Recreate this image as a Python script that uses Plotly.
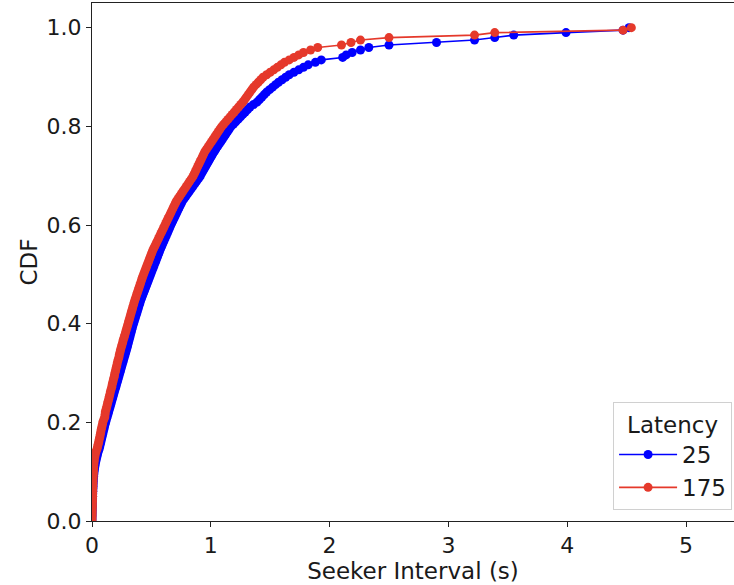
import numpy as np
import plotly.graph_objects as go

# Seeker intervals (seconds), sorted, one list per latency setting
interval_25 = [
    0.000, 0.000, 0.001, 0.001, 0.002, 0.002, 0.003, 0.003, 0.004, 0.005,
    0.005, 0.006, 0.007, 0.008, 0.009, 0.010, 0.011, 0.012, 0.014, 0.016,
    0.018, 0.021, 0.024, 0.028, 0.032, 0.037, 0.042, 0.047, 0.053, 0.060,
    0.065, 0.070, 0.075, 0.080, 0.085, 0.090, 0.095, 0.100, 0.105, 0.110,
    0.116, 0.122, 0.128, 0.134, 0.140, 0.146, 0.152, 0.158, 0.164, 0.170,
    0.176, 0.182, 0.188, 0.194, 0.200, 0.206, 0.212, 0.218, 0.224, 0.230,
    0.236, 0.242, 0.248, 0.254, 0.260, 0.266, 0.272, 0.278, 0.284, 0.290,
    0.296, 0.301, 0.307, 0.312, 0.318, 0.323, 0.329, 0.334, 0.340, 0.345,
    0.352, 0.358, 0.365, 0.371, 0.378, 0.384, 0.391, 0.397, 0.404, 0.410,
    0.418, 0.426, 0.434, 0.442, 0.450, 0.458, 0.466, 0.474, 0.482, 0.490,
    0.498, 0.506, 0.514, 0.522, 0.530, 0.538, 0.546, 0.554, 0.562, 0.570,
    0.579, 0.588, 0.597, 0.606, 0.615, 0.624, 0.633, 0.642, 0.651, 0.660,
    0.670, 0.680, 0.690, 0.700, 0.710, 0.720, 0.730, 0.740, 0.750, 0.760,
    0.775, 0.790, 0.805, 0.820, 0.835, 0.850, 0.865, 0.880, 0.895, 0.910,
    0.920, 0.932, 0.944, 0.956, 0.968, 0.980, 0.992, 1.004, 1.016, 1.030,
    1.042, 1.056, 1.070, 1.084, 1.098, 1.112, 1.126, 1.140, 1.154, 1.168,
    1.190, 1.210, 1.230, 1.250, 1.270, 1.290, 1.310, 1.330, 1.360, 1.390,
    1.410, 1.430, 1.450, 1.470, 1.495, 1.520, 1.545, 1.570, 1.600, 1.630,
    1.660, 1.700, 1.740, 1.780, 1.820, 1.880, 1.930, 2.110, 2.140, 2.190,
    2.260, 2.330, 2.500, 2.900, 3.220, 3.390, 3.550, 3.990, 4.470, 4.520,
]

interval_175 = [
    0.000, 0.000, 0.001, 0.001, 0.002, 0.002, 0.003, 0.003, 0.004, 0.004,
    0.005, 0.005, 0.006, 0.006, 0.007, 0.008, 0.008, 0.009, 0.010, 0.011,
    0.012, 0.013, 0.014, 0.016, 0.018, 0.020, 0.024, 0.028, 0.034, 0.042,
    0.047, 0.052, 0.057, 0.061, 0.066, 0.070, 0.074, 0.078, 0.083, 0.088,
    0.092, 0.100, 0.108, 0.110, 0.112, 0.118, 0.124, 0.129, 0.134, 0.140,
    0.145, 0.150, 0.154, 0.160, 0.166, 0.170, 0.175, 0.180, 0.186, 0.190,
    0.195, 0.200, 0.205, 0.210, 0.214, 0.220, 0.226, 0.230, 0.235, 0.240,
    0.246, 0.252, 0.258, 0.263, 0.270, 0.276, 0.282, 0.288, 0.294, 0.300,
    0.306, 0.312, 0.318, 0.324, 0.330, 0.336, 0.342, 0.348, 0.354, 0.360,
    0.367, 0.374, 0.381, 0.388, 0.395, 0.402, 0.409, 0.416, 0.423, 0.430,
    0.438, 0.446, 0.454, 0.462, 0.470, 0.478, 0.486, 0.494, 0.502, 0.510,
    0.520, 0.530, 0.540, 0.550, 0.560, 0.570, 0.580, 0.590, 0.600, 0.610,
    0.620, 0.630, 0.640, 0.650, 0.660, 0.670, 0.680, 0.690, 0.700, 0.710,
    0.724, 0.738, 0.752, 0.766, 0.780, 0.794, 0.808, 0.822, 0.836, 0.850,
    0.860, 0.870, 0.880, 0.890, 0.900, 0.910, 0.920, 0.930, 0.940, 0.950,
    0.964, 0.978, 0.992, 1.006, 1.020, 1.034, 1.048, 1.062, 1.076, 1.090,
    1.108, 1.126, 1.144, 1.162, 1.180, 1.198, 1.216, 1.234, 1.252, 1.270,
    1.285, 1.300, 1.315, 1.330, 1.345, 1.360, 1.380, 1.400, 1.420, 1.440,
    1.470, 1.500, 1.530, 1.560, 1.590, 1.620, 1.660, 1.700, 1.740, 1.780,
    1.840, 1.900, 2.100, 2.180, 2.260, 2.500, 3.220, 3.390, 4.470, 4.540,
]

series = [("25", interval_25, "#0000ff"), ("175", interval_175, "#e5392b")]

x_ticks = [0, 1, 2, 3, 4, 5]
y_ticks = [0.0, 0.2, 0.4, 0.6, 0.8, 1.0]

fig = go.Figure()
for name, values, color in series:
    xs = np.sort(np.asarray(values, dtype=float))
    cdf = np.arange(len(xs)) / (len(xs) - 1)
    fig.add_trace(go.Scatter(
        x=xs, y=cdf, name=name, mode="lines+markers",
        line=dict(color=color, width=1.6),
        marker=dict(color=color, size=9),
    ))

font_family = "DejaVu Sans, Arial, sans-serif"
text_color = "#1a1a1a"
axis_common = dict(
    showgrid=False, zeroline=False, showline=True, linecolor="#222222",
    linewidth=1, ticks="outside", ticklen=5, tickwidth=1, tickcolor="#222222",
    tickfont=dict(family=font_family, size=22, color=text_color),
)

fig.update_layout(
    width=734, height=585,
    margin=dict(l=92, r=0, t=3, b=64),
    paper_bgcolor="white", plot_bgcolor="white",
    font=dict(family=font_family, size=22, color=text_color),
    xaxis=dict(
        range=[0, 5.404], tickvals=x_ticks, mirror=True,
        title=dict(text="Seeker Interval (s)", standoff=4,
                   font=dict(family=font_family, size=23, color=text_color)),
        **axis_common,
    ),
    yaxis=dict(
        range=[0, 1.05], tickvals=y_ticks, tickformat=".1f",
        title=dict(text="CDF", standoff=2,
                   font=dict(family=font_family, size=23, color=text_color)),
        **axis_common,
    ),
    legend=dict(
        x=0.997, y=0.021, xanchor="right", yanchor="bottom",
        bgcolor="rgba(255,255,255,0.85)", bordercolor="#d0d0d0", borderwidth=1,
        font=dict(family=font_family, size=23, color=text_color),
        title=dict(text="Latency", side="top center",
                   font=dict(family=font_family, size=23, color=text_color)),
        tracegroupgap=6, itemwidth=58,
    ),
    showlegend=True,
)

fig.write_html("out.html")
